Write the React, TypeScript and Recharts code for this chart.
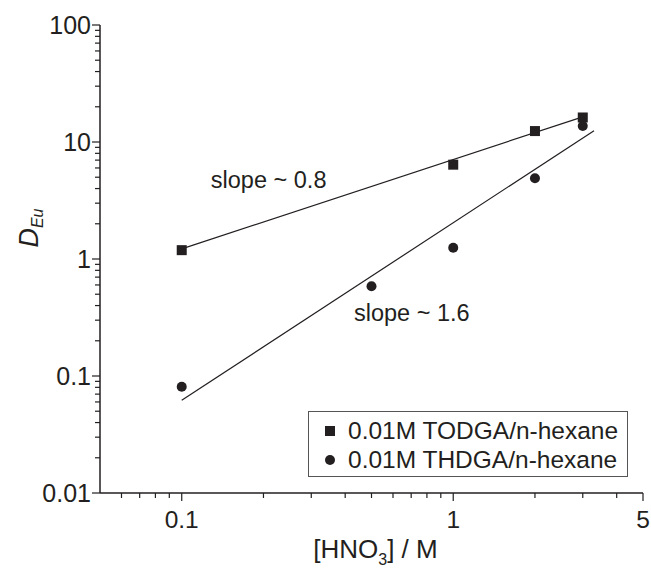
import { Legend, ReferenceDot, Scatter, ScatterChart, XAxis, YAxis } from 'recharts'

const todga = [
  { x: 0.1, y: 1.19 },
  { x: 1, y: 6.4 },
  { x: 2, y: 12.4 },
  { x: 3, y: 16.2 },
]

const thdga = [
  { x: 0.1, y: 0.081 },
  { x: 0.5, y: 0.585 },
  { x: 1, y: 1.25 },
  { x: 2, y: 4.9 },
  { x: 3, y: 13.7 },
]

// fitted lines, end points
const todgaFit = [
  { x: 0.1, y: 1.22 },
  { x: 3, y: 16.4 },
]
const thdgaFit = [
  { x: 0.1, y: 0.062 },
  { x: 3.3, y: 12.5 },
]

const xTicks = [0.06, 0.07, 0.08, 0.09, 0.1, 0.2, 0.3, 0.4, 0.5, 0.6, 0.7, 0.8, 0.9, 1, 2, 3, 4, 5]
const xMajor = [0.1, 1, 5]
const yTicks = [
  0.01, 0.02, 0.03, 0.04, 0.05, 0.06, 0.07, 0.08, 0.09,
  0.1, 0.2, 0.3, 0.4, 0.5, 0.6, 0.7, 0.8, 0.9,
  1, 2, 3, 4, 5, 6, 7, 8, 9,
  10, 20, 30, 40, 50, 60, 70, 80, 90, 100,
]
const yMajor = [0.01, 0.1, 1, 10, 100]

const INK = '#231f20'
const FONT = '"Liberation Sans", Arial, sans-serif'

const XTick = (props: any) => {
  const { x, y, payload } = props
  const major = xMajor.includes(payload.value)
  return (
    <g>
      <line x1={x} x2={x} y1={y} y2={y + (major ? 8 : 5)} stroke={INK} strokeWidth={1.2} />
      {major && (
        <text x={x} y={y + 35} textAnchor="middle" fontSize={24.5} fill={INK} fontFamily={FONT}>
          {payload.value}
        </text>
      )}
    </g>
  )
}

const YTick = (props: any) => {
  const { x, y, payload } = props
  const major = yMajor.includes(payload.value)
  return (
    <g>
      <line x1={x} x2={x - (major ? 8 : 5)} y1={y} y2={y} stroke={INK} strokeWidth={1.2} />
      {major && (
        <text x={x - 9} y={y + 9} textAnchor="end" fontSize={25} fill={INK} fontFamily={FONT}>
          {payload.value}
        </text>
      )}
    </g>
  )
}

const Square = (props: any) => (
  <rect x={props.cx - 5} y={props.cy - 5} width={10} height={10} fill={INK} />
)
const Dot = (props: any) => <circle cx={props.cx} cy={props.cy} r={5} fill={INK} />
const NoMark = () => <g />

const renderLegend = () => (
  <div
    style={{
      border: '1px solid #555',
      background: '#fff',
      width: 320,
      height: 66,
      boxSizing: 'border-box',
      fontFamily: FONT,
      fontSize: 24.5,
      color: INK,
      padding: '4px 0 0 15px',
      lineHeight: '29px',
    }}
  >
    <div style={{ display: 'flex', alignItems: 'center' }}>
      <svg width={24} height={12}>
        <rect x={1} y={1} width={10} height={10} fill={INK} />
      </svg>
      <span>0.01M TODGA/n-hexane</span>
    </div>
    <div style={{ display: 'flex', alignItems: 'center' }}>
      <svg width={24} height={12}>
        <circle cx={6} cy={6} r={5} fill={INK} />
      </svg>
      <span>0.01M THDGA/n-hexane</span>
    </div>
  </div>
)

export default function App() {
  return (
    <div style={{ position: 'absolute', left: 0, top: 0, background: '#fff' }}>
      <ScatterChart width={651} height={571} margin={{ top: 25, right: 8, bottom: 0, left: 0 }}>
        <XAxis
          dataKey="x"
          type="number"
          scale="log"
          domain={[0.05, 5]}
          ticks={xTicks}
          interval={0}
          allowDataOverflow
          height={78}
          tickSize={0}
          tickMargin={0}
          tickLine={false}
          axisLine={{ stroke: INK, strokeWidth: 1.5 }}
          tick={<XTick />}
          label={(p: any) => {
            const vb = p.viewBox
            const cx = vb.x + vb.width / 2 + 4
            return (
              <text x={cx} y={558} textAnchor="middle" fontFamily={FONT} fill={INK} fontSize={26}>
                <tspan>[HNO</tspan>
                <tspan fontSize={16} dy={7}>3</tspan>
                <tspan dy={-7}>] / M</tspan>
              </text>
            )
          }}
        />
        <YAxis
          dataKey="y"
          type="number"
          scale="log"
          domain={[0.01, 100]}
          ticks={yTicks}
          interval={0}
          allowDataOverflow
          width={100}
          tickSize={0}
          tickMargin={0}
          tickLine={false}
          axisLine={{ stroke: INK, strokeWidth: 1.5 }}
          tick={<YTick />}
          label={() => {
            const cx = 31
            const cy = 228
            return (
              <text
                x={cx}
                y={cy}
                transform={`rotate(-90 ${cx} ${cy})`}
                textAnchor="middle"
                fontFamily={FONT}
                fill={INK}
                fontSize={27}
                dominantBaseline="middle"
              >
                <tspan fontStyle="italic">D</tspan>
                <tspan fontStyle="italic" fontSize={16} dy={8}>Eu</tspan>
              </text>
            )
          }}
        />
        <XAxis xAxisId="top" orientation="top" dataKey="x" type="number" scale="log" domain={[0.05, 5]} height={0} tick={false} tickLine={false} axisLine={{ stroke: '#555', strokeWidth: 1 }} />
        <YAxis yAxisId="right" orientation="right" dataKey="y" type="number" scale="log" domain={[0.01, 100]} width={0} tick={false} tickLine={false} axisLine={{ stroke: INK, strokeWidth: 1.5 }} />

        <Scatter data={todgaFit} line={{ stroke: INK, strokeWidth: 1.2 }} shape={<NoMark />} isAnimationActive={false} legendType="none" />
        <Scatter data={thdgaFit} line={{ stroke: INK, strokeWidth: 1.2 }} shape={<NoMark />} isAnimationActive={false} legendType="none" />
        <Scatter name="0.01M TODGA/n-hexane" data={todga} shape={<Square />} isAnimationActive={false} />
        <Scatter name="0.01M THDGA/n-hexane" data={thdga} shape={<Dot />} isAnimationActive={false} />

        <ReferenceDot
          x={0.128}
          y={4.8}
          r={0}
          ifOverflow="visible"
          label={{ value: 'slope ~ 0.8', position: 'right', offset: 0, fontSize: 23.5, fill: INK, fontFamily: FONT }}
        />
        <ReferenceDot
          x={0.431}
          y={0.351}
          r={0}
          ifOverflow="visible"
          label={{ value: 'slope ~ 1.6', position: 'right', offset: 0, fontSize: 23.5, fill: INK, fontFamily: FONT }}
        />

        <Legend
          layout="vertical"
          align="center"
          verticalAlign="middle"
          content={renderLegend}
          wrapperStyle={{ position: 'absolute', left: 308, top: 411, width: 320, height: 66 }}
        />
      </ScatterChart>
    </div>
  )
}
